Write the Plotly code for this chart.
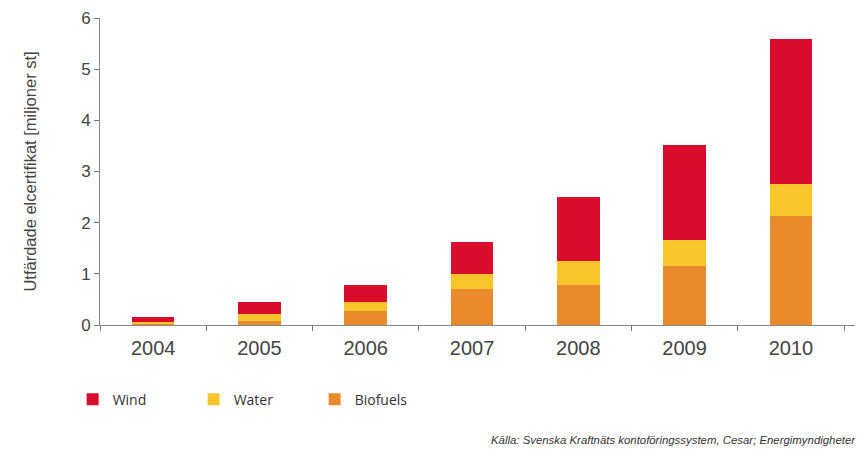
import plotly.graph_objects as go

years = ["2004", "2005", "2006", "2007", "2008", "2009", "2010"]
biofuels = [0.03, 0.08, 0.28, 0.70, 0.78, 1.15, 2.13]
water = [0.03, 0.13, 0.16, 0.29, 0.48, 0.51, 0.62]
wind = [0.10, 0.23, 0.34, 0.64, 1.25, 1.85, 2.84]

fig = go.Figure()
fig.add_trace(go.Bar(x=years, y=biofuels, name="Biofuels", marker=dict(color="#E98A2C", line=dict(width=0))))
fig.add_trace(go.Bar(x=years, y=water, name="Water", marker=dict(color="#F8C62A", line=dict(width=0))))
fig.add_trace(go.Bar(x=years, y=wind, name="Wind", marker=dict(color="#DA0C2E", line=dict(width=0))))

fig.update_layout(
    barmode="stack",
    bargap=0.6,
    width=855, height=443,
    margin=dict(l=92, r=3, t=10, b=126, autoexpand=False),
    plot_bgcolor="white", paper_bgcolor="white",
    showlegend=True,
    legend=dict(orientation="h", x=-0.036, y=-0.243, xanchor="left", yanchor="middle",
                traceorder="reversed", entrywidth=76, entrywidthmode="pixels",
                font=dict(family="Open Sans", size=14, color="#333")),
    xaxis=dict(type="category", range=[-0.5, 6.65], tickson="boundaries",
               ticks="outside", ticklen=5, tickcolor="#777", ticklabelstandoff=5,
               showline=True, linecolor="#888", linewidth=1, showgrid=False,
               tickfont=dict(family="Liberation Sans", size=20, color="#444")),
    yaxis=dict(range=[0, 6], dtick=1, ticks="outside", ticklen=5, tickcolor="#777",
               showline=True, linecolor="#888", linewidth=1, showgrid=False, zeroline=False,
               tickfont=dict(family="Liberation Sans", size=17, color="#444"),
               title=dict(text="Utfärdade elcertifikat [miljoner st]", standoff=40,
                          font=dict(family="Liberation Sans Narrow, Liberation Sans", size=16.5, color="#444"))),
    annotations=[dict(text="<i>Källa: Svenska Kraftnäts kontoföringssystem, Cesar; Energimyndigheten</i>",
                      xref="paper", yref="paper", x=1.0, y=-0.375, xanchor="right", yanchor="middle",
                      showarrow=False, font=dict(family="Liberation Sans", size=11.4, color="#333"))],
)

fig.write_html("out.html")
